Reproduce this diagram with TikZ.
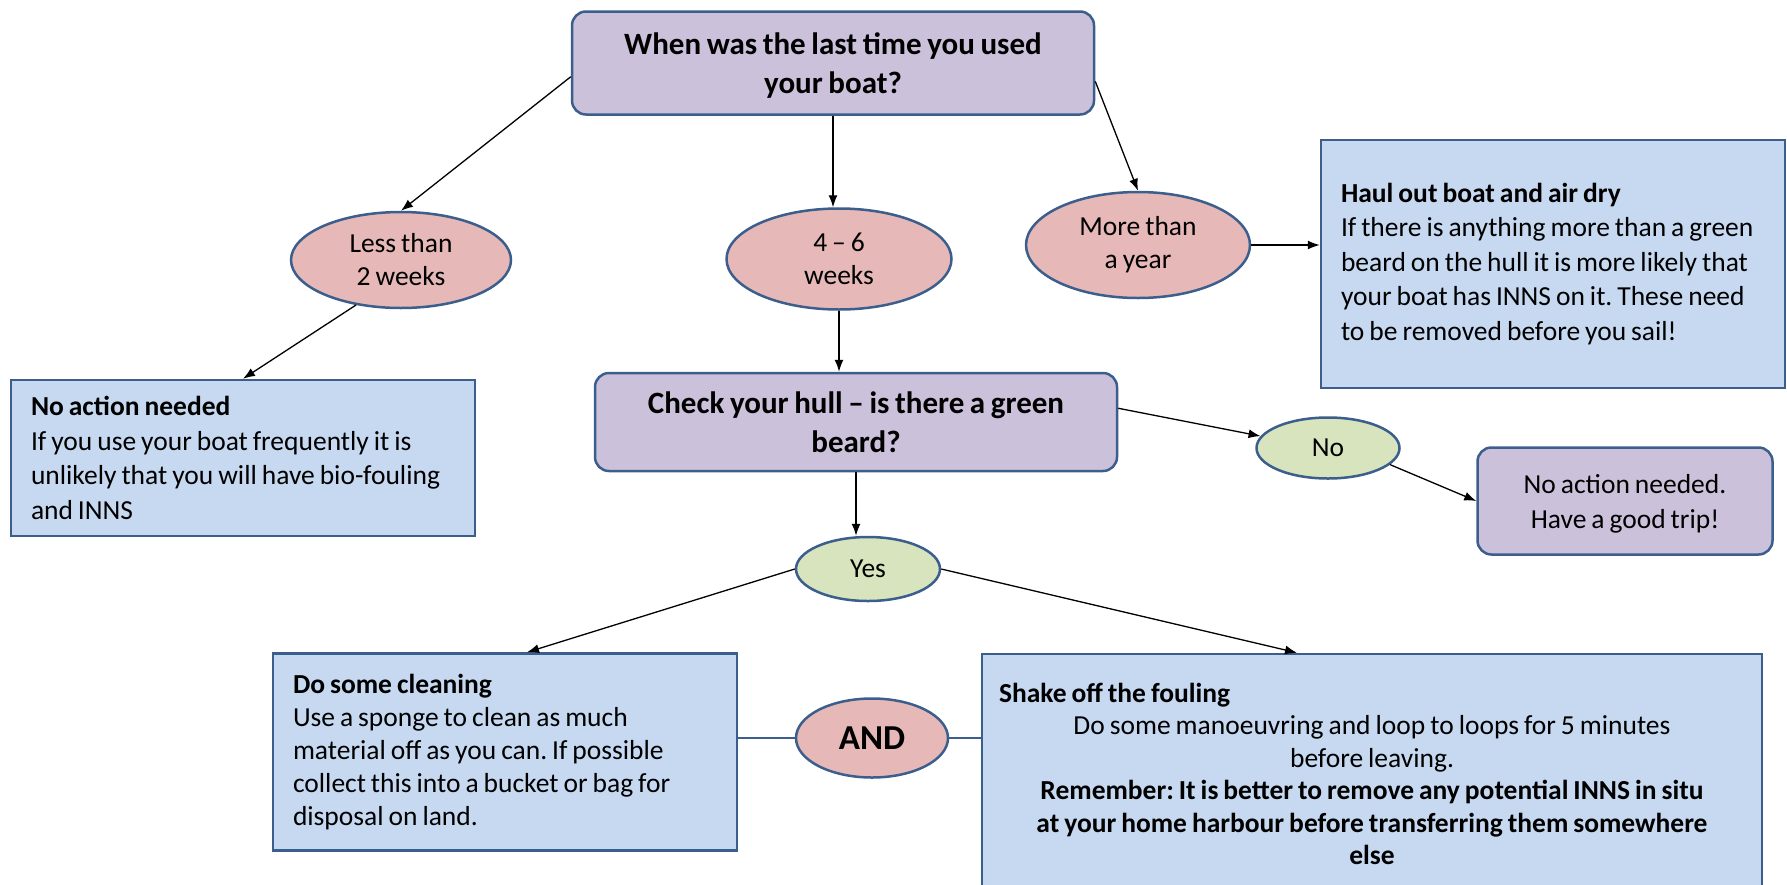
\documentclass[tikz,border=0pt]{standalone}
\usepackage{fontspec}
\setmainfont{Carlito}[WordSpace=0.8]
\frenchspacing
\usetikzlibrary{shapes.geometric,arrows.meta}
\definecolor{edge}{HTML}{3B5E8C}
\definecolor{lilac}{HTML}{CCC1DA}
\definecolor{paleblue}{HTML}{C6D9F1}
\definecolor{rose}{HTML}{E6B9B8}
\definecolor{sage}{HTML}{D7E4BD}
\begin{document}
\begin{tikzpicture}[x=1pt,y=-1pt,
    qbox/.style={draw=edge,line width=2.5pt,rounded corners=14pt,fill=lilac,align=center,inner sep=0pt,
      text depth=-6pt,font=\bfseries\fontsize{31}{39}\selectfont},
    infobox/.style={draw=edge,line width=2.5pt,fill=paleblue,align=flush left,text width=424pt,inner xsep=20pt,
      inner ysep=0pt,font=\fontsize{27.5}{34.5}\selectfont},
    answer/.style={ellipse,draw=edge,line width=2.5pt,fill=rose,align=center,inner sep=0pt,
      font=\fontsize{27.5}{33}\selectfont},
    yesno/.style={answer,fill=sage},
    link/.style={-{Latex[length=12pt,width=9pt]},line width=1.3pt},
    bond/.style={draw=edge,line width=2.5pt}]
  \useasboundingbox (0,0) rectangle (1787,884);

  \node[qbox,minimum width=522pt,minimum height=103pt] (top) at (833,63)
    {When was the last time you used\\your boat?};
  \node[answer,minimum width=220pt,minimum height=96pt] (less) at (401,260) {Less than\\2 weeks};
  \node[answer,minimum width=225pt,minimum height=101pt] (mid) at (839,259) {4 -- 6\\weeks};
  \node[answer,minimum width=224pt,minimum height=106pt] (far) at (1138,245) {More than\\a year};
  \node[infobox,minimum height=248pt] (haul) at (1553,264)
    {\textbf{Haul out boat and air dry}\\If there is anything more than a green\\beard on the hull it is more likely that\\your boat has INNS on it. These need\\to be removed before you sail!};
  \node[infobox,minimum height=156pt] (noact) at (243,458)
    {\textbf{No action needed}\\If you use your boat frequently it is\\unlikely that you will have bio-fouling\\and INNS};
  \node[qbox,minimum width=522pt,minimum height=98pt] (hull) at (856,422)
    {Check your hull -- is there a green\\beard?};
  \node[yesno,minimum width=143pt,minimum height=61pt] (no) at (1328,448) {No};
  \node[qbox,font=\fontsize{27.5}{35}\selectfont,minimum width=295pt,minimum height=107pt] (nogood) at (1625,501)
    {No action needed.\\Have a good trip!};
  \node[yesno,minimum width=144pt,minimum height=64pt] (yes) at (868,569) {Yes};
  \node[infobox,font=\fontsize{27.5}{33}\selectfont,minimum height=197pt] (clean) at (505,752)
    {\textbf{Do some cleaning}\\Use a sponge to clean as much\\material off as you can. If possible\\collect this into a bucket or bag for\\disposal on land.};
  \node[answer,font=\bfseries\fontsize{35}{40}\selectfont,minimum width=152pt,minimum height=79pt] (and) at (872,738) {AND};
  \node[infobox,align=flush center,text width=746pt,inner xsep=17pt,minimum height=240pt,font=\fontsize{27.5}{32.5}\selectfont] (shake) at (1372,774)
    {\makebox[\linewidth][l]{\bfseries Shake off the fouling}\\Do some manoeuvring and loop to loops for 5 minutes\\before leaving.\\{\bfseries Remember: It is better to remove any potential INNS in situ\\at your home harbour before transferring them somewhere\\else}};

  \draw[link] (top.183) -- (less.north);
  \draw[link] (top.south) -- (top.south |- mid.north);
  \draw[link] (top.356) -- (far.north);
  \draw[link] (far.east) -- (far.east -| haul.west);
  \draw[link] (less.225) -- (noact.north);
  \draw[link] (mid.south) -- (mid.south |- hull.north);
  \draw[link] (hull.3) -- (no.170);
  \draw[link] (no.345) -- (nogood.west);
  \draw[link] (hull.south) -- (hull.south |- yes.north);
  \draw[link] (yes.west) -- ([xshift=22pt]clean.north);
  \draw[link] (yes.east) -- ([xshift=-75pt]shake.north);
  \draw[bond] (and.west) -- (and.west -| clean.east);
  \draw[bond] (and.east) -- (and.east -| shake.west);
\end{tikzpicture}
\end{document}
